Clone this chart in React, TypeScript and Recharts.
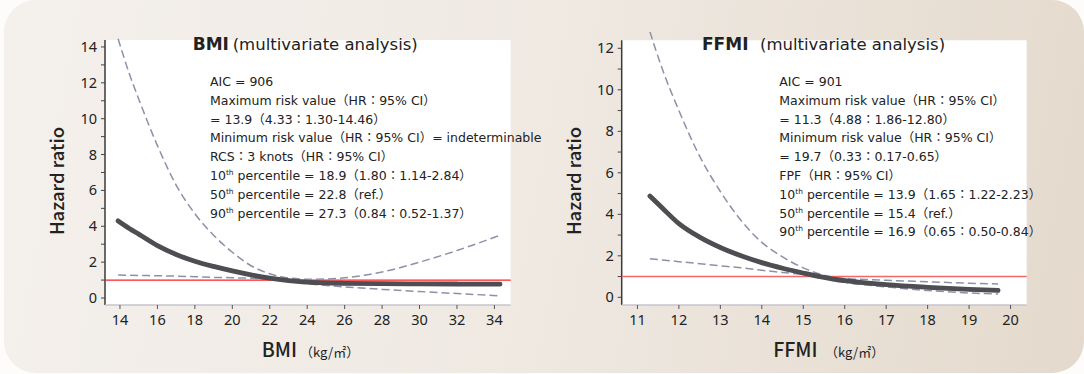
import React from 'react';
import { LineChart, Line, XAxis, YAxis, ReferenceLine, ReferenceArea } from 'recharts';

// BMI panel (restricted cubic spline, HR with 95% CI)
const bmiX: number[] = [13.9, 14.5, 15, 16, 17, 18, 19, 20, 21, 22, 22.8, 24, 25, 26, 28, 30, 32, 34.3];
const bmiHR: number[] = [4.3, 3.88, 3.56, 2.92, 2.43, 2.05, 1.76, 1.51, 1.29, 1.11, 1.0, 0.88, 0.84, 0.82, 0.8, 0.79, 0.78, 0.77];
const bmiUpper: number[] = [14.46, 12.5, 11.1, 8.5, 6.3, 4.7, 3.5, 2.55, 1.8, 1.35, 1.15, 1.05, 1.06, 1.13, 1.45, 2.0, 2.65, 3.5];
const bmiLower: number[] = [1.28, 1.27, 1.26, 1.24, 1.22, 1.19, 1.15, 1.13, 1.1, 1.04, 0.95, 0.8, 0.7, 0.62, 0.48, 0.36, 0.25, 0.12];
const bmiXTicks: number[] = [14, 16, 18, 20, 22, 24, 26, 28, 30, 32, 34];
const bmiYTicks: number[] = [0, 1, 2, 3, 4, 5, 6, 7, 8, 9, 10, 11, 12, 13, 14];

// FFMI panel (fractional polynomial, HR with 95% CI)
const ffmiX: number[] = [11.3, 11.6, 12, 12.5, 13, 13.5, 14, 14.5, 15, 15.4, 16, 16.5, 17, 18, 19, 19.7];
const ffmiHR: number[] = [4.88, 4.3, 3.55, 2.9, 2.4, 2.0, 1.67, 1.4, 1.17, 1.0, 0.8, 0.7, 0.61, 0.48, 0.38, 0.33];
const ffmiUpper: number[] = [12.8, 11.0, 9.0, 6.8, 5.1, 3.7, 2.65, 1.95, 1.42, 1.12, 0.9, 0.86, 0.82, 0.75, 0.68, 0.64];
const ffmiLower: number[] = [1.86, 1.8, 1.72, 1.62, 1.52, 1.42, 1.3, 1.2, 1.1, 1.0, 0.72, 0.6, 0.5, 0.33, 0.21, 0.16];
const ffmiXTicks: number[] = [11, 12, 13, 14, 15, 16, 17, 18, 19, 20];
const ffmiYTicks: number[] = [0, 1, 2, 3, 4, 5, 6, 7, 8, 9, 10, 11, 12];

const bmiNotes: string[][] = [
  ['AIC = 906'],
  ['Maximum risk value（HR：95% CI）'],
  ['= 13.9（4.33：1.30-14.46）'],
  ['Minimum risk value（HR：95% CI）= indeterminable'],
  ['RCS：3 knots（HR：95% CI）'],
  ['10', ' percentile = 18.9（1.80：1.14-2.84）'],
  ['50', ' percentile = 22.8（ref.）'],
  ['90', ' percentile = 27.3（0.84：0.52-1.37）'],
];
const ffmiNotes: string[][] = [
  ['AIC = 901'],
  ['Maximum risk value（HR：95% CI）'],
  ['= 11.3（4.88：1.86-12.80）'],
  ['Minimum risk value（HR：95% CI）'],
  ['= 19.7（0.33：0.17-0.65）'],
  ['FPF（HR：95% CI）'],
  ['10', ' percentile = 13.9（1.65：1.22-2.23）'],
  ['50', ' percentile = 15.4（ref.）'],
  ['90', ' percentile = 16.9（0.65：0.50-0.84）'],
];

const FONT = "'Noto Sans', 'Noto Sans CJK JP', sans-serif";
const WIDE = "'DejaVu Sans', 'Noto Sans CJK JP', sans-serif";
const JP = "'Noto Sans CJK JP', 'Noto Sans', sans-serif";
const INK = '#222';
const CURVE = '#4d4d52';
const DASH = '#8c91a8';

const bmiData = bmiX.map((x, i) => ({ x, hr: bmiHR[i], upper: bmiUpper[i], lower: bmiLower[i] }));
const ffmiData = ffmiX.map((x, i) => ({ x, hr: ffmiHR[i], upper: ffmiUpper[i], lower: ffmiLower[i] }));

const EvenTick = (props: any) => {
  const { x, y, payload } = props;
  if (payload.value % 2 !== 0) return <g />;
  return (
    <text x={x} y={y} dy={5} textAnchor="end" fontFamily={FONT} fontSize={14.5} fill={INK}>
      {payload.value}
    </text>
  );
};

type PanelProps = {
  data: any[];
  width: number;
  margin: { top: number; right: number; bottom: number; left: number };
  xDomain: [number, number];
  yDomain: [number, number];
  whiteTop: number;
  xTicks: number[];
  yTicks: number[];
  refColor: string;
  refWidth: number;
};

const Panel: React.FC<PanelProps> = ({ data, width, margin, xDomain, yDomain, whiteTop, xTicks, yTicks, refColor, refWidth }) => (
  <LineChart width={width} height={374} data={data} margin={margin}>
    <ReferenceArea x1={xDomain[0]} x2={xDomain[1]} y1={yDomain[0]} y2={whiteTop} fill="#ffffff" fillOpacity={1} stroke="none" />
    <XAxis
      type="number"
      dataKey="x"
      domain={xDomain}
      ticks={xTicks}
      allowDataOverflow
      height={30}
      axisLine={{ stroke: '#c4c4cc', strokeWidth: 1.5 }}
      tickLine={{ stroke: '#555' }}
      tickSize={4}
      tickMargin={6}
      tick={{ fontFamily: FONT, fontSize: 14.5, fill: INK }}
    />
    <YAxis
      type="number"
      domain={yDomain}
      ticks={yTicks}
      allowDataOverflow
      width={40}
      axisLine={false}
      tickLine={{ stroke: '#444' }}
      tickSize={4}
      tickMargin={4}
      tick={EvenTick}
      interval={0}
    />
    <ReferenceLine
      segment={[{ x: xDomain[0], y: yDomain[0] }, { x: xDomain[0], y: whiteTop }]}
      stroke="#3a3a3a"
      strokeWidth={1.5}
    />
    <ReferenceLine y={1} stroke={refColor} strokeWidth={refWidth} />
    <Line type="monotone" dataKey="upper" stroke={DASH} strokeWidth={1.5} strokeDasharray="8 4" dot={false} isAnimationActive={false} />
    <Line type="monotone" dataKey="lower" stroke={DASH} strokeWidth={1.5} strokeDasharray="8 4" dot={false} isAnimationActive={false} />
    <Line type="monotone" dataKey="hr" stroke={CURVE} strokeWidth={4.8} strokeLinecap="round" dot={false} isAnimationActive={false} />
  </LineChart>
);

const Notes: React.FC<{ lines: string[][]; x: number; y: number }> = ({ lines, x, y }) => (
  <text fontFamily={WIDE} fontSize={12.5} fill={INK}>
    {lines.map((ln, i) => (
      <tspan key={i} x={x} y={y + i * 18.8}>
        {ln.length === 1 ? (
          ln[0]
        ) : (
          <>
            {ln[0]}
            <tspan fontSize={7.5} dy={-5}>th</tspan>
            <tspan dy={5}>{ln[1]}</tspan>
          </>
        )}
      </tspan>
    ))}
  </text>
);

export default function App() {
  return (
    <div style={{ position: 'absolute', left: 0, top: 0, width: 1084, height: 374, background: '#fdfcfb', overflow: 'hidden' }}>
      <div
        style={{
          position: 'absolute',
          left: 4,
          top: 0,
          width: 1080,
          height: 373,
          borderRadius: 32,
          background: 'linear-gradient(100deg, #f4f0ec 0%, #efe9e2 50%, #e4d9cc 100%)',
        }}
      />
      <div style={{ position: 'absolute', left: 0, top: 0 }}>
        <Panel
          data={bmiData}
          width={540}
          margin={{ top: 36.2, right: 29.3, bottom: 39, left: 65 }}
          xDomain={[13.2, 34.87]}
          yDomain={[-0.39, 14.6]}
          whiteTop={14.39}
          xTicks={bmiXTicks}
          yTicks={bmiYTicks}
          refColor="#ff1f1f"
          refWidth={1.3}
        />
      </div>
      <div style={{ position: 'absolute', left: 540, top: 0 }}>
        <Panel
          data={ffmiData}
          width={544}
          margin={{ top: 31.7, right: 57.3, bottom: 39, left: 41.7 }}
          xDomain={[10.62, 20.39]}
          yDomain={[-0.37, 12.8]}
          whiteTop={12.39}
          xTicks={ffmiXTicks}
          yTicks={ffmiYTicks}
          refColor="#f06a6a"
          refWidth={1.6}
        />
      </div>
      <svg width={1084} height={374} style={{ position: 'absolute', left: 0, top: 0, pointerEvents: 'none' }}>
        {/* titles */}
        <text x={192.7} y={50} fontFamily={WIDE} fontSize={17} fontWeight={700} fill={INK}>BMI</text>
        <text x={232.7} y={50} fontFamily={WIDE} fontSize={16.5} fill={INK}>(multivariate analysis)</text>
        <text x={702} y={50} fontFamily={WIDE} fontSize={17} fontWeight={700} fill={INK}>FFMI</text>
        <text x={760} y={50} fontFamily={WIDE} fontSize={16.5} fill={INK}>(multivariate analysis)</text>

        <Notes lines={bmiNotes} x={210} y={86} />
        <Notes lines={ffmiNotes} x={779.3} y={86} />

        {/* y axis labels */}
        <text transform="translate(64,181) rotate(-90)" textAnchor="middle" fontFamily={JP} fontSize={18.5} fontWeight={500} fill={INK}>Hazard ratio</text>
        <text transform="translate(580.5,181) rotate(-90)" textAnchor="middle" fontFamily={JP} fontSize={18.5} fontWeight={500} fill={INK}>Hazard ratio</text>

        {/* x axis labels */}
        <text x={261.7} y={357} fontFamily={JP} fontSize={19.5} fontWeight={500} fill={INK}>BMI</text>
        <text x={300} y={357} fontFamily={JP} fontSize={13} fill={INK}>（kg/㎡）</text>
        <text x={773.3} y={357} fontFamily={JP} fontSize={19.5} fontWeight={500} fill={INK}>FFMI</text>
        <text x={825} y={357} fontFamily={JP} fontSize={13} fill={INK}>（kg/㎡）</text>
      </svg>
    </div>
  );
}
